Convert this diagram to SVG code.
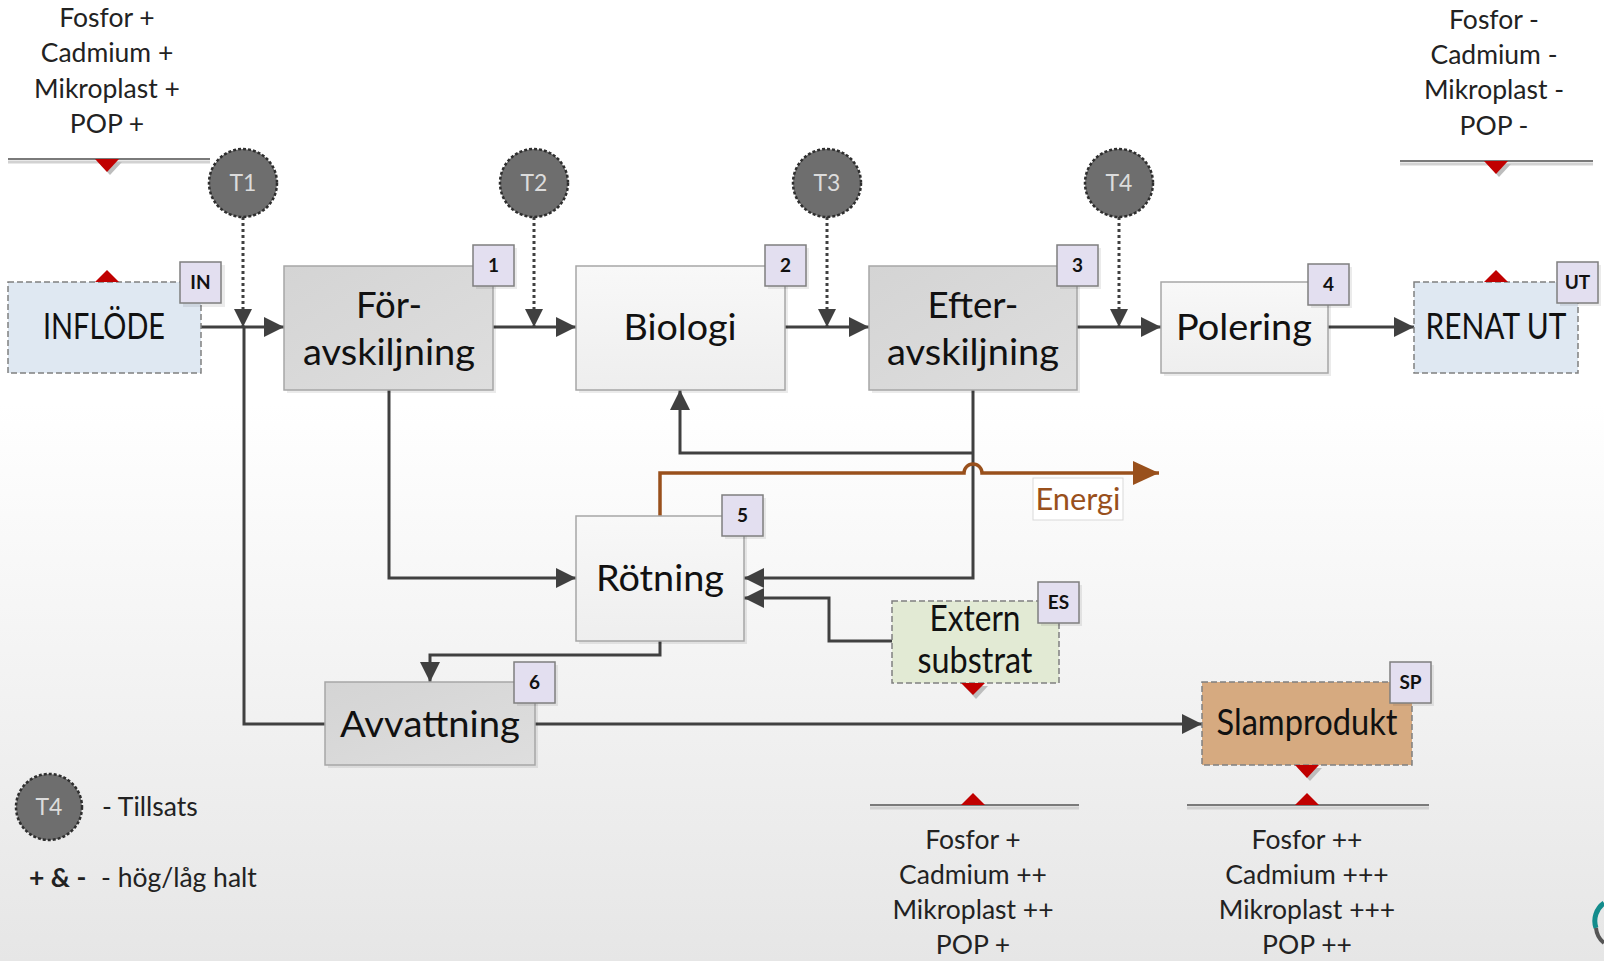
<svg xmlns="http://www.w3.org/2000/svg" width="1604" height="961" viewBox="0 0 1604 961">
<defs>
<linearGradient id="bg" x1="0" y1="0" x2="0" y2="1">
<stop offset="0" stop-color="#ffffff"/>
<stop offset="0.42" stop-color="#ffffff"/>
<stop offset="1" stop-color="#e6e6e6"/>
</linearGradient>
<linearGradient id="gDark" x1="0" y1="0" x2="1" y2="1">
<stop offset="0" stop-color="#d4d4d4"/>
<stop offset="1" stop-color="#dedede"/>
</linearGradient>
<linearGradient id="gLight" x1="0" y1="0" x2="0" y2="1">
<stop offset="0" stop-color="#f8f8f8"/>
<stop offset="1" stop-color="#eeeeee"/>
</linearGradient>
<marker id="arr" markerWidth="20" markerHeight="20" refX="20" refY="10" orient="auto" markerUnits="userSpaceOnUse">
<path d="M0,0 L20,10 L0,20 z" fill="#404040"/>
</marker>
<marker id="arrD" markerWidth="18" markerHeight="18" refX="18" refY="9" orient="auto" markerUnits="userSpaceOnUse">
<path d="M0,0 L18,9 L0,18 z" fill="#404040"/>
</marker>
<marker id="arrE" markerWidth="26" markerHeight="24" refX="26" refY="12" orient="auto" markerUnits="userSpaceOnUse">
<path d="M0,0 L26,12 L0,24 z" fill="#99501c"/>
</marker>
</defs>
<style>
.box{stroke:#a6a6a6;stroke-width:1.5}
.dk{fill:url(#gDark)}
.lt{fill:url(#gLight)}
.dash{stroke:#808080;stroke-width:1.5;stroke-dasharray:6 3}
.sh{fill:#000;opacity:0.08}
.badge{fill:#e3dff0;stroke:#7f7f7f;stroke-width:1.5}
.bt{font-family:Lato,"Liberation Sans",sans-serif;font-weight:bold;font-size:19px;fill:#111;text-anchor:middle}
.big{font-family:Lato,"Liberation Sans",sans-serif;font-size:37px;fill:#111;text-anchor:middle}
.sm{font-family:Lato,"Liberation Sans",sans-serif;font-size:26.5px;fill:#222;text-anchor:middle}
.leg{font-family:Lato,"Liberation Sans",sans-serif;font-size:26.5px;fill:#222}
.circ{fill:#6e6e6e;stroke:#2e2e2e;stroke-width:2.5;stroke-dasharray:3 2}
.ct{font-family:Lato,"Liberation Sans",sans-serif;font-size:23px;fill:#dcdcdc;text-anchor:middle}
.con{fill:none;stroke:#404040;stroke-width:3}
.dot{fill:none;stroke:#404040;stroke-width:3;stroke-dasharray:3 3}
.red{fill:#c00000}
.rsh{fill:#bdbdbd}
.l1{stroke:#7a7a7a;stroke-width:2}
.l2{stroke:#d2d2d2;stroke-width:3}
</style>
<rect x="0" y="0" width="1604" height="961" fill="url(#bg)"/>

<g id="labels-top-left">
<text class="sm" x="107" y="27">Fosfor +</text>
<text class="sm" x="107" y="62">Cadmium +</text>
<text class="sm" x="107" y="98">Mikroplast +</text>
<text class="sm" x="107" y="133">POP +</text>
<line class="l2" x1="8" y1="162" x2="210" y2="162"/>
<line class="l1" x1="8" y1="159" x2="210" y2="159"/>
<path class="rsh" d="M98,162 L122,162 L110,175 z"/>
<path class="red" d="M95,159 L119,159 L107,172 z"/>
</g>

<g id="labels-top-right">
<text class="sm" x="1494" y="29">Fosfor -</text>
<text class="sm" x="1494" y="64">Cadmium -</text>
<text class="sm" x="1494" y="99">Mikroplast -</text>
<text class="sm" x="1494" y="135">POP -</text>
<line class="l2" x1="1400" y1="164" x2="1593" y2="164"/>
<line class="l1" x1="1400" y1="161" x2="1593" y2="161"/>
<path class="rsh" d="M1487,164 L1511,164 L1499,177 z"/>
<path class="red" d="M1484,161 L1508,161 L1496,174 z"/>
</g>

<g id="labels-bottom-mid">
<line class="l2" x1="870" y1="808" x2="1079" y2="808"/>
<line class="l1" x1="870" y1="805" x2="1079" y2="805"/>
<path class="red" d="M961,805 L985,805 L973,793 z"/>
<text class="sm" x="973" y="849">Fosfor +</text>
<text class="sm" x="973" y="884">Cadmium ++</text>
<text class="sm" x="973" y="919">Mikroplast ++</text>
<text class="sm" x="973" y="954">POP +</text>
</g>

<g id="labels-bottom-right">
<line class="l2" x1="1187" y1="808" x2="1429" y2="808"/>
<line class="l1" x1="1187" y1="805" x2="1429" y2="805"/>
<path class="red" d="M1295,805 L1319,805 L1307,793 z"/>
<text class="sm" x="1307" y="849">Fosfor ++</text>
<text class="sm" x="1307" y="884">Cadmium +++</text>
<text class="sm" x="1307" y="919">Mikroplast +++</text>
<text class="sm" x="1307" y="954">POP ++</text>
</g>

<g id="connectors">
<path class="con" d="M201,327 H284" marker-end="url(#arr)"/>
<path class="con" d="M493,327 H576" marker-end="url(#arr)"/>
<path class="con" d="M785,327 H869" marker-end="url(#arr)"/>
<path class="con" d="M1077,327 H1161" marker-end="url(#arr)"/>
<path class="con" d="M1328,327 H1414" marker-end="url(#arr)"/>
<path class="dot" d="M243,217 V327" marker-end="url(#arrD)"/>
<path class="dot" d="M534,217 V327" marker-end="url(#arrD)"/>
<path class="dot" d="M827,217 V327" marker-end="url(#arrD)"/>
<path class="dot" d="M1119,217 V327" marker-end="url(#arrD)"/>
<path class="con" d="M389,390 V578 H576" marker-end="url(#arr)"/>
<path class="con" d="M973,390 V578 H744" marker-end="url(#arr)"/>
<path class="con" d="M973,453 H680 V390" marker-end="url(#arr)"/>
<path d="M660,516 V473 H964 a9,9 0 0 1 18,0 H1159" fill="none" stroke="#99501c" stroke-width="3.5" marker-end="url(#arrE)"/>
<path class="con" d="M892,641 H829 V598 H744" marker-end="url(#arr)"/>
<path class="con" d="M660,641 V655 H430 V682" marker-end="url(#arr)"/>
<path class="con" d="M325,724 H244 V327"/>
<path class="con" d="M535,724 H1202" marker-end="url(#arr)"/>
</g>

<g id="energi">
<rect x="1033" y="478" width="90" height="42" fill="#ffffff" stroke="#d9d9d9" stroke-width="1"/>
<text x="1078" y="510" font-family="Lato,'Liberation Sans',sans-serif" font-size="30" fill="#99501c" text-anchor="middle" textLength="85" lengthAdjust="spacingAndGlyphs">Energi</text>
</g>

<g id="T1"><circle class="circ" cx="243" cy="183" r="34"/><text class="ct" x="243" y="191">T1</text></g>
<g id="T2"><circle class="circ" cx="534" cy="183" r="34"/><text class="ct" x="534" y="191">T2</text></g>
<g id="T3"><circle class="circ" cx="827" cy="183" r="34"/><text class="ct" x="827" y="191">T3</text></g>
<g id="T4"><circle class="circ" cx="1119" cy="183" r="34"/><text class="ct" x="1119" y="191">T4</text></g>

<g id="inflode">
<rect x="8" y="282" width="193" height="91" fill="#dfe8f2" class="dash"/>
<path class="red" d="M95,282 L119,282 L107,270 z"/>
<text class="big" x="104" y="339" font-size="31" textLength="122" lengthAdjust="spacingAndGlyphs">INFLÖDE</text>
<rect class="sh" x="183" y="265" width="42" height="42"/>
<rect class="badge" x="180" y="262" width="41" height="41"/>
<text class="bt" x="200.5" y="289">IN</text>
</g>

<g id="foravskiljning">
<rect class="sh" x="287" y="269" width="209" height="124"/>
<rect class="box dk" x="284" y="266" width="209" height="124"/>
<text class="big" x="389" y="318" textLength="66" lengthAdjust="spacingAndGlyphs">För-</text>
<text class="big" x="389" y="365" textLength="172" lengthAdjust="spacingAndGlyphs">avskiljning</text>
<rect class="sh" x="476" y="248" width="41" height="41"/>
<rect class="badge" x="473" y="245" width="41" height="41"/>
<text class="bt" x="493.5" y="272">1</text>
</g>

<g id="biologi">
<rect class="sh" x="579" y="269" width="209" height="124"/>
<rect class="box lt" x="576" y="266" width="209" height="124"/>
<text class="big" x="680" y="340" textLength="113" lengthAdjust="spacingAndGlyphs">Biologi</text>
<rect class="sh" x="768" y="248" width="41" height="41"/>
<rect class="badge" x="765" y="245" width="41" height="41"/>
<text class="bt" x="785.5" y="272">2</text>
</g>

<g id="efteravskiljning">
<rect class="sh" x="872" y="269" width="208" height="124"/>
<rect class="box dk" x="869" y="266" width="208" height="124"/>
<text class="big" x="973" y="318" textLength="91" lengthAdjust="spacingAndGlyphs">Efter-</text>
<text class="big" x="973" y="365" textLength="172" lengthAdjust="spacingAndGlyphs">avskiljning</text>
<rect class="sh" x="1060" y="248" width="41" height="41"/>
<rect class="badge" x="1057" y="245" width="41" height="41"/>
<text class="bt" x="1077.5" y="272">3</text>
</g>

<g id="polering">
<rect class="sh" x="1164" y="285" width="167" height="91"/>
<rect class="box lt" x="1161" y="282" width="167" height="91"/>
<text class="big" x="1244" y="340" textLength="136" lengthAdjust="spacingAndGlyphs">Polering</text>
<rect class="sh" x="1311" y="267" width="41" height="41"/>
<rect class="badge" x="1308" y="264" width="41" height="41"/>
<text class="bt" x="1328.5" y="291">4</text>
</g>

<g id="renat-ut">
<rect x="1414" y="282" width="164" height="91" fill="#dfe8f2" class="dash"/>
<path class="red" d="M1484,282 L1508,282 L1496,270 z"/>
<text class="big" x="1496" y="339" font-size="31" textLength="141" lengthAdjust="spacingAndGlyphs">RENAT UT</text>
<rect class="sh" x="1560" y="265" width="41" height="41"/>
<rect class="badge" x="1557" y="262" width="41" height="41"/>
<text class="bt" x="1577.5" y="289">UT</text>
</g>

<g id="rotning">
<rect class="sh" x="579" y="519" width="168" height="125"/>
<rect class="box lt" x="576" y="516" width="168" height="125"/>
<text class="big" x="660" y="591" textLength="128" lengthAdjust="spacingAndGlyphs">Rötning</text>
<rect class="sh" x="725" y="498" width="41" height="41"/>
<rect class="badge" x="722" y="495" width="41" height="41"/>
<text class="bt" x="742.5" y="522">5</text>
</g>

<g id="extern-substrat">
<rect x="892" y="601" width="167" height="82" fill="#e2ead4" class="dash"/>
<path class="rsh" d="M964,686 L988,686 L976,699 z"/>
<path class="red" d="M961,683 L985,683 L973,695 z"/>
<text class="big" x="975" y="631" font-size="31" textLength="91" lengthAdjust="spacingAndGlyphs">Extern</text>
<text class="big" x="975" y="673" font-size="31" textLength="115" lengthAdjust="spacingAndGlyphs">substrat</text>
<rect class="sh" x="1041" y="585" width="41" height="41"/>
<rect class="badge" x="1038" y="582" width="41" height="41"/>
<text class="bt" x="1058.5" y="609">ES</text>
</g>

<g id="avvattning">
<rect class="sh" x="328" y="685" width="210" height="83"/>
<rect class="box dk" x="325" y="682" width="210" height="83"/>
<text class="big" x="430" y="737" textLength="180" lengthAdjust="spacingAndGlyphs">Avvattning</text>
<rect class="sh" x="517" y="665" width="41" height="41"/>
<rect class="badge" x="514" y="662" width="41" height="41"/>
<text class="bt" x="534.5" y="689">6</text>
</g>

<g id="slamprodukt">
<rect x="1202" y="682" width="210" height="83" fill="#d6aa80" class="dash"/>
<path class="rsh" d="M1298,768 L1322,768 L1310,781 z"/>
<path class="red" d="M1295,765 L1319,765 L1307,778 z"/>
<text class="big" x="1307" y="735" font-size="32" textLength="181" lengthAdjust="spacingAndGlyphs">Slamprodukt</text>
<rect class="sh" x="1393" y="665" width="41" height="41"/>
<rect class="badge" x="1390" y="662" width="41" height="41"/>
<text class="bt" x="1410.5" y="689">SP</text>
</g>

<g id="legend">
<circle class="circ" cx="49" cy="807" r="33"/>
<text class="ct" x="49" y="815">T4</text>
<text class="leg" x="102" y="816">- Tillsats</text>
<text class="leg" x="29" y="887" font-weight="bold">+ &amp; -</text>
<text class="leg" x="101" y="887">- hög/låg halt</text>
</g>

<g id="logo">
<path d="M1604,903 A22,22 0 0 0 1596,928" fill="none" stroke="#138c8c" stroke-width="5"/>
<path d="M1596,928 A22,22 0 0 0 1604,943" fill="none" stroke="#555" stroke-width="4"/>
</g>
</svg>
